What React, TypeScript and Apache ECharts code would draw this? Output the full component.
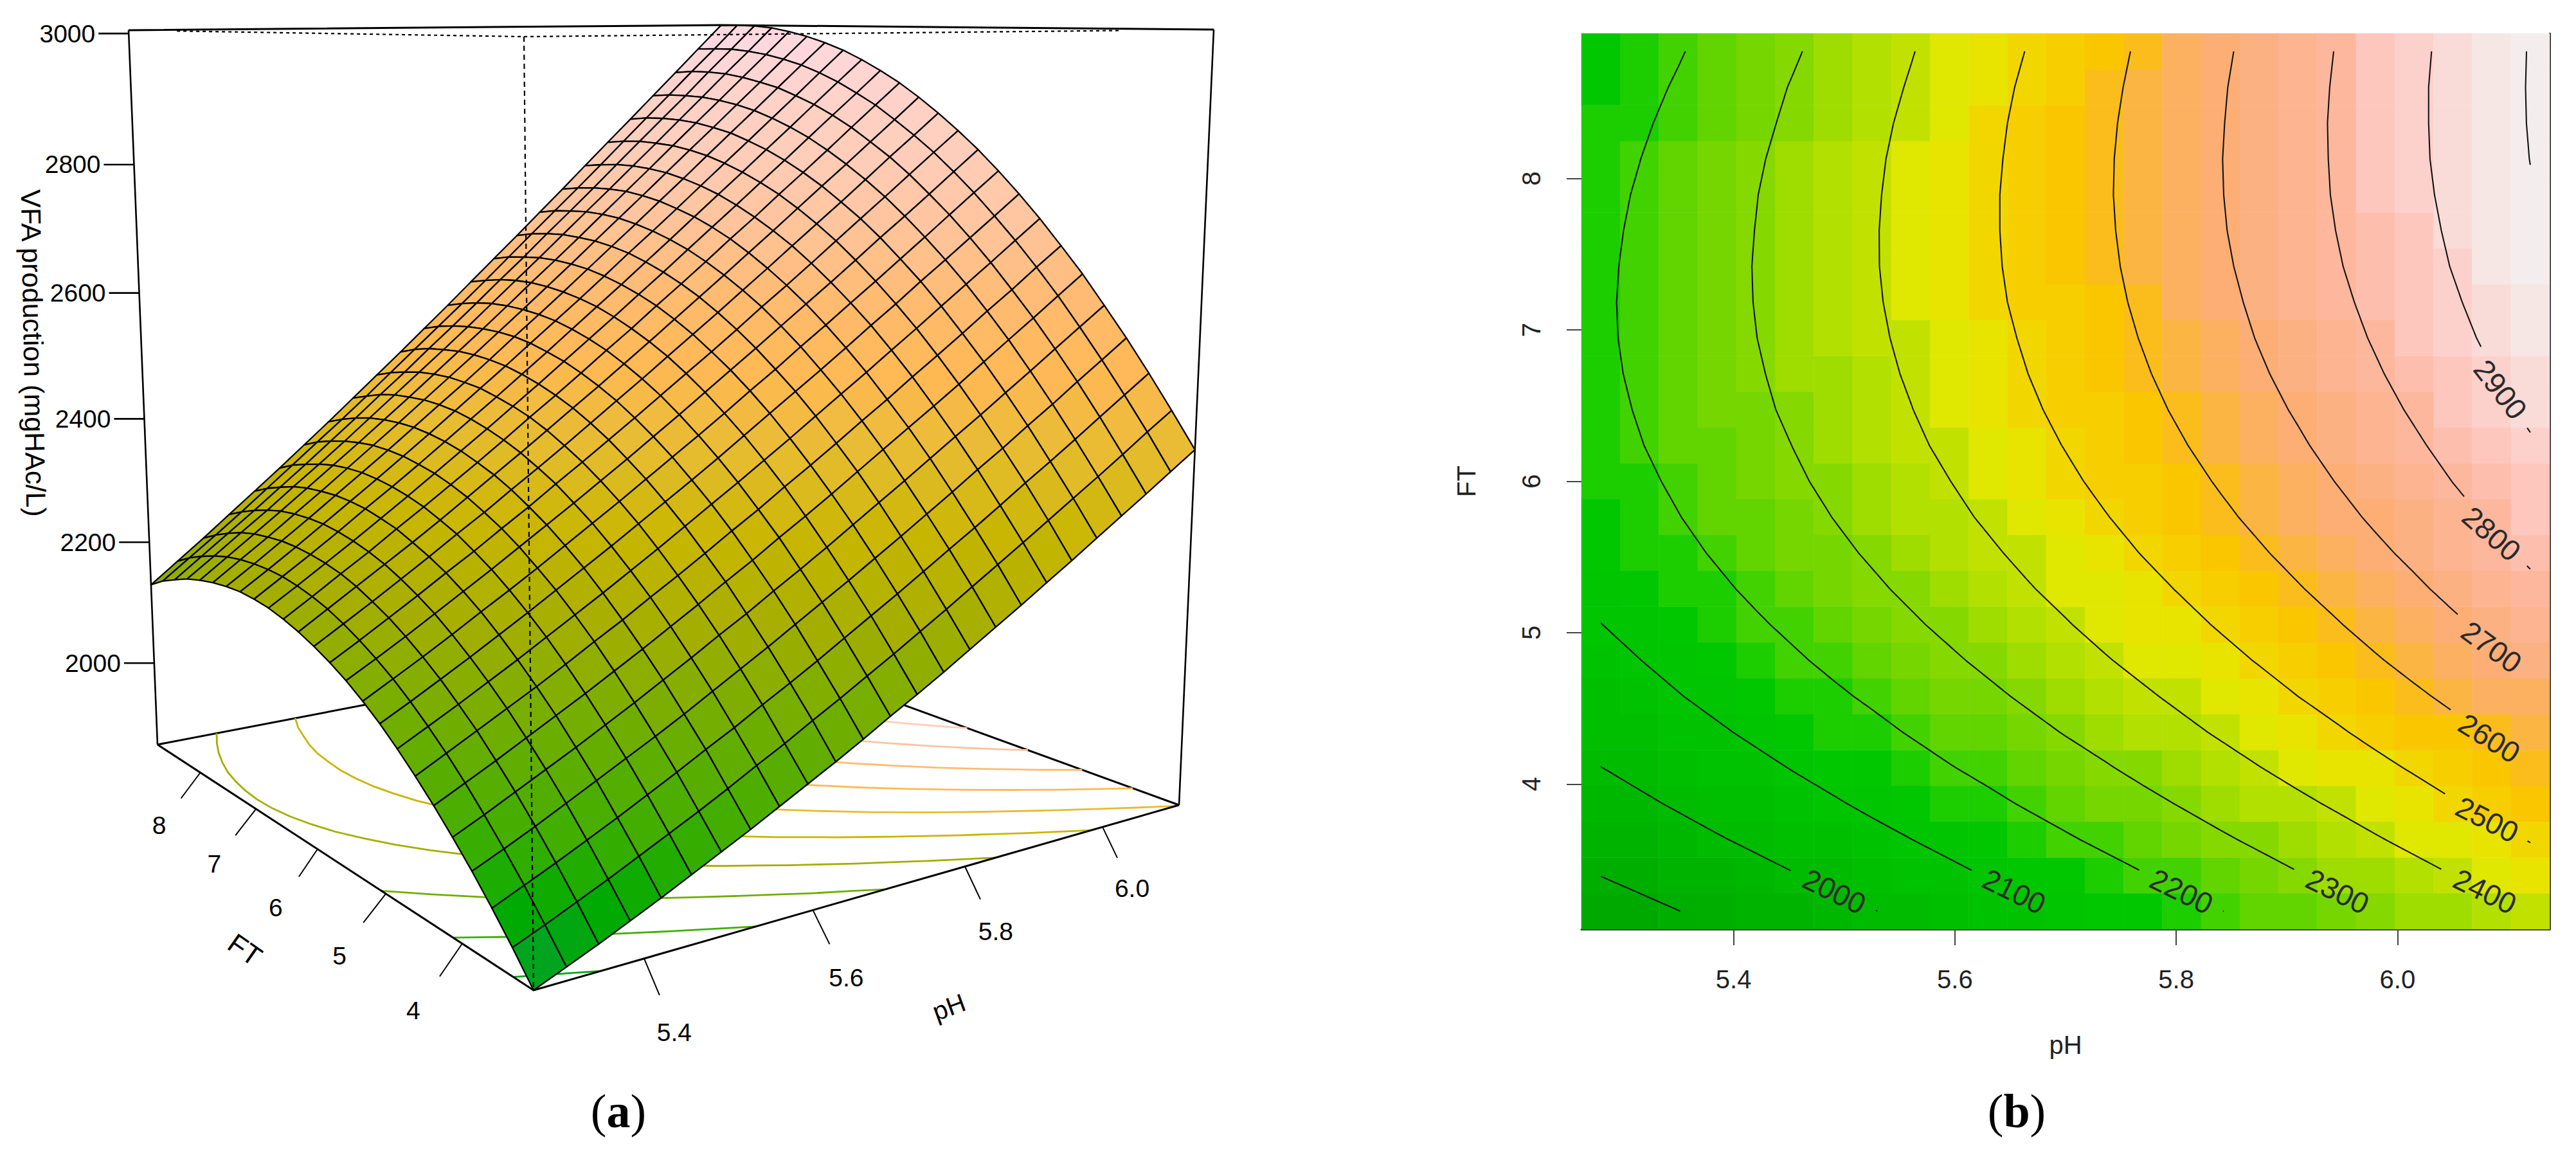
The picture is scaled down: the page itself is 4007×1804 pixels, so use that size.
import React, { useEffect, useRef } from "react";
import * as echarts from "echarts";

// ---------- values ----------
const phGrid = [5.28, 5.315, 5.35, 5.385, 5.42, 5.455, 5.49, 5.525, 5.56, 5.595, 5.63, 5.665, 5.7, 5.735, 5.77, 5.805, 5.84, 5.875, 5.91, 5.945, 5.98, 6.015, 6.05, 6.085, 6.12];
const ftGrid = [3.16, 3.397, 3.633, 3.87, 4.107, 4.343, 4.58, 4.817, 5.053, 5.29, 5.527, 5.763, 6.0, 6.237, 6.473, 6.71, 6.947, 7.183, 7.42, 7.657, 7.893, 8.13, 8.367, 8.603, 8.84];
// rows follow ftGrid, columns follow phGrid: VFA production (mgHAc/L)
const vfaGrid = [
  [1863, 1881, 1899, 1918, 1937, 1957, 1977, 1997, 2018, 2039, 2060, 2082, 2105, 2127, 2150, 2174, 2198, 2222, 2247, 2272, 2298, 2324, 2350, 2377, 2404],
  [1901, 1919, 1938, 1957, 1977, 1997, 2017, 2038, 2060, 2081, 2104, 2126, 2149, 2172, 2196, 2220, 2245, 2270, 2295, 2321, 2347, 2373, 2400, 2428, 2455],
  [1936, 1955, 1974, 1994, 2014, 2035, 2056, 2078, 2099, 2122, 2144, 2167, 2191, 2215, 2239, 2264, 2289, 2314, 2340, 2367, 2393, 2420, 2448, 2476, 2504],
  [1969, 1988, 2008, 2029, 2050, 2071, 2092, 2114, 2137, 2160, 2183, 2207, 2231, 2255, 2280, 2305, 2331, 2357, 2384, 2410, 2438, 2465, 2494, 2522, 2551],
  [1999, 2019, 2040, 2061, 2082, 2104, 2126, 2149, 2172, 2196, 2219, 2244, 2268, 2293, 2319, 2345, 2371, 2398, 2425, 2452, 2480, 2508, 2537, 2566, 2595],
  [2027, 2048, 2069, 2091, 2113, 2135, 2158, 2181, 2205, 2229, 2254, 2278, 2304, 2329, 2355, 2382, 2409, 2436, 2463, 2491, 2520, 2549, 2578, 2608, 2638],
  [2053, 2075, 2097, 2119, 2141, 2164, 2188, 2211, 2236, 2260, 2285, 2311, 2336, 2363, 2389, 2416, 2444, 2471, 2500, 2528, 2557, 2587, 2616, 2647, 2677],
  [2077, 2099, 2121, 2144, 2167, 2191, 2215, 2239, 2264, 2289, 2315, 2341, 2367, 2394, 2421, 2449, 2477, 2505, 2534, 2563, 2593, 2623, 2653, 2684, 2715],
  [2099, 2121, 2144, 2167, 2191, 2215, 2240, 2265, 2290, 2316, 2342, 2368, 2395, 2423, 2451, 2479, 2507, 2536, 2566, 2595, 2626, 2656, 2687, 2718, 2750],
  [2118, 2141, 2164, 2188, 2213, 2237, 2262, 2288, 2314, 2340, 2367, 2394, 2421, 2449, 2478, 2506, 2536, 2565, 2595, 2625, 2656, 2687, 2719, 2751, 2783],
  [2135, 2158, 2182, 2207, 2232, 2257, 2283, 2309, 2335, 2362, 2389, 2417, 2445, 2474, 2503, 2532, 2562, 2592, 2622, 2653, 2685, 2716, 2748, 2781, 2814],
  [2149, 2173, 2198, 2223, 2249, 2274, 2301, 2327, 2355, 2382, 2410, 2438, 2467, 2496, 2525, 2555, 2586, 2616, 2647, 2679, 2711, 2743, 2776, 2809, 2842],
  [2161, 2186, 2211, 2237, 2263, 2290, 2316, 2344, 2371, 2399, 2428, 2457, 2486, 2516, 2546, 2576, 2607, 2638, 2670, 2702, 2734, 2767, 2801, 2834, 2868],
  [2171, 2197, 2223, 2249, 2275, 2302, 2330, 2358, 2386, 2415, 2444, 2473, 2503, 2533, 2564, 2595, 2626, 2658, 2690, 2723, 2756, 2789, 2823, 2857, 2892],
  [2179, 2205, 2232, 2258, 2286, 2313, 2341, 2369, 2398, 2428, 2457, 2487, 2518, 2548, 2580, 2611, 2643, 2676, 2708, 2742, 2775, 2809, 2844, 2879, 2914],
  [2185, 2211, 2238, 2265, 2293, 2321, 2350, 2379, 2408, 2438, 2468, 2499, 2530, 2561, 2593, 2625, 2658, 2691, 2724, 2758, 2792, 2827, 2862, 2897, 2933],
  [2188, 2215, 2242, 2270, 2299, 2327, 2356, 2386, 2416, 2446, 2477, 2508, 2540, 2572, 2604, 2637, 2670, 2704, 2738, 2772, 2807, 2842, 2878, 2914, 2950],
  [2189, 2216, 2244, 2273, 2302, 2331, 2361, 2391, 2422, 2453, 2484, 2516, 2548, 2580, 2613, 2647, 2680, 2714, 2749, 2784, 2819, 2855, 2891, 2928, 2965],
  [2187, 2215, 2244, 2273, 2303, 2333, 2363, 2394, 2425, 2456, 2488, 2521, 2553, 2586, 2620, 2654, 2688, 2723, 2758, 2794, 2830, 2866, 2903, 2940, 2977],
  [2183, 2212, 2241, 2271, 2301, 2332, 2363, 2394, 2426, 2458, 2490, 2523, 2556, 2590, 2624, 2659, 2694, 2729, 2765, 2801, 2837, 2874, 2911, 2949, 2987],
  [2177, 2207, 2237, 2267, 2298, 2329, 2360, 2392, 2424, 2457, 2490, 2523, 2557, 2592, 2626, 2661, 2697, 2733, 2769, 2806, 2843, 2880, 2918, 2956, 2995],
  [2169, 2199, 2230, 2260, 2292, 2323, 2355, 2388, 2421, 2454, 2487, 2521, 2556, 2591, 2626, 2662, 2698, 2734, 2771, 2808, 2846, 2884, 2923, 2961, 3001],
  [2158, 2189, 2220, 2251, 2283, 2315, 2348, 2381, 2415, 2448, 2483, 2517, 2552, 2588, 2623, 2660, 2696, 2733, 2771, 2809, 2847, 2885, 2925, 2964, 3004],
  [2146, 2177, 2208, 2240, 2273, 2306, 2339, 2372, 2406, 2441, 2476, 2511, 2546, 2582, 2619, 2656, 2693, 2730, 2768, 2807, 2846, 2885, 2925, 2964, 3005],
  [2130, 2162, 2194, 2227, 2260, 2293, 2327, 2361, 2396, 2431, 2466, 2502, 2538, 2575, 2612, 2649, 2687, 2725, 2764, 2803, 2842, 2882, 2922, 2963, 3004],
];
const contourLevels = [1900, 2000, 2100, 2200, 2300, 2400, 2500, 2600, 2700, 2800, 2900, 3000];
const zTicks = [2000, 2200, 2400, 2600, 2800, 3000];
const phTicks = [5.4, 5.6, 5.8, 6.0];
const ftTicks = [4, 5, 6, 7, 8];
const contourLabelLevels = [2000, 2100, 2200, 2300, 2400, 2500, 2600, 2700, 2800, 2900];
const contourLabelPh = [5.491, 5.6535, 5.8047, 5.9458, 6.079, 6.081, 6.083, 6.085, 6.085, 6.093];
const contourLabelFt = [3.291, 3.291, 3.291, 3.291, 3.291, 3.765, 4.303, 4.905, 5.653, 6.606];
const contourLabelTilt = [26, 26, 26, 26, 26, 27, 32, 36, 41, 52];

// ---------- colour ramps (level, colour) ----------
const surfaceLevels = [1863, 1930, 2000, 2100, 2200, 2300, 2400, 2500, 2600, 2700, 2800, 2900, 3005];
const surfaceColours = ["#00A035", "#00AA00", "#40AE00", "#70AE00", "#A4AE00", "#C8B600", "#E6BC30", "#FFB954", "#FFBB72", "#FFC49C", "#FFCDB8", "#FFD3CC", "#FFDAE6"];
const heatLevels = [1863, 1950, 2050, 2150, 2200, 2250, 2300, 2350, 2400, 2440, 2470, 2500, 2540, 2575, 2612, 2650, 2700, 2800, 2850, 2900, 2950, 3005];
const heatColours = ["#00A600", "#00B400", "#00C000", "#00C800", "#3CD200", "#6ED400", "#82D800", "#AADE00", "#C0E200", "#E6E800", "#E8E400", "#F2D600", "#F8CC00", "#FAC400", "#FBB82E", "#FCB25A", "#FCAE78", "#FDB8A0", "#FEC4BA", "#FCD4D0", "#F6E4E2", "#F2F2F2"];

// ---------- layout of the perspective box on the page ----------
const W = 4007;
const H = 1804;
const SERIF = "'Liberation Serif', serif";
const SANS = "'Liberation Sans', Arial, sans-serif";
type Pt = [number, number];
const floorQuad: Pt[] = [[830, 1540], [1834, 1252], [1116, 991], [245, 1158]];
const roofQuad: Pt[] = [[815, 57], [1888, 46], [1121, 39], [200, 47]];
const viewPull = -0.075;
const phTickVec: Pt[] = [[24, 57], [26, 53], [24, 51], [23, 48]];
const phLabelVec: Pt[] = [[47, 115], [52, 105], [48, 101], [46, 95]];
const ftTickVec: Pt[] = [[-35, 51], [-35, 45], [-29, 43], [-32, 41], [-30, 40]];
const ftLabelVec: Pt[] = [[-76, 104], [-72, 97], [-65, 91], [-65, 85], [-64, 82]];
const heatRect = { left: 2460, top: 52, width: 1506, height: 1393 };

function quadMap(q: Pt[]) {
  const [[x0, y0], [x1, y1], [x2, y2], [x3, y3]] = q;
  const dx1 = x1 - x2, dx2 = x3 - x2, sx = x0 - x1 + x2 - x3;
  const dy1 = y1 - y2, dy2 = y3 - y2, sy = y0 - y1 + y2 - y3;
  const det = dx1 * dy2 - dx2 * dy1;
  const g = (sx * dy2 - dx2 * sy) / det;
  const h = (dx1 * sy - sx * dy1) / det;
  const A = x1 - x0 + g * x1, B = x3 - x0 + h * x3;
  const D = y1 - y0 + g * y1, E = y3 - y0 + h * y3;
  return {
    g, h,
    at: (a: number, b: number): Pt => {
      const w = g * a + h * b + 1;
      return [(A * a + B * b + x0) / w, (D * a + E * b + y0) / w];
    },
  };
}
const floorMap = quadMap(floorQuad);
const roofMap = quadMap(roofQuad);
const phMin = phGrid[0], phMax = phGrid[24], ftMin = ftGrid[0], ftMax = ftGrid[24];
const zMin = 1863, zMax = 3005;

function projectUnit(a: number, b: number, c: number): Pt {
  const B = floorMap.at(a, b);
  const T = roofMap.at(a, b);
  const w = 1 + floorMap.g * a + floorMap.h * b;
  const t = (c * (w + viewPull)) / (w + viewPull * c);
  return [B[0] + (T[0] - B[0]) * t, B[1] + (T[1] - B[1]) * t];
}
function project(ph: number, ft: number, z: number): Pt {
  return projectUnit((ph - phMin) / (phMax - phMin), (ft - ftMin) / (ftMax - ftMin), (z - zMin) / (zMax - zMin));
}

function hex(c: string) {
  return [1, 3, 5].map((k) => parseInt(c.slice(k, k + 2), 16));
}
function ramp(levels: number[], colours: string[], z: number) {
  let k = 0;
  while (k < levels.length - 2 && z > levels[k + 1]) k++;
  const t = Math.max(0, Math.min(1, (z - levels[k]) / (levels[k + 1] - levels[k])));
  const a = hex(colours[k]), b = hex(colours[k + 1]);
  return `rgb(${a.map((v, n) => Math.round(v + (b[n] - v) * t)).join(",")})`;
}

// contour lines are traced through the table, cell by cell, as a contour plot does
function traceContour(level: number): Pt[][] {
  const points = new Map<string, Pt>();
  const links = new Map<string, string[]>();
  const edge = (i1: number, j1: number, i2: number, j2: number) => {
    const z1 = vfaGrid[i1][j1], z2 = vfaGrid[i2][j2];
    if (z1 >= level === z2 >= level) return null;
    const key = `${i1},${j1},${i2},${j2}`;
    const t = (level - z1) / (z2 - z1);
    points.set(key, [phGrid[j1] + (phGrid[j2] - phGrid[j1]) * t, ftGrid[i1] + (ftGrid[i2] - ftGrid[i1]) * t]);
    return key;
  };
  const link = (a: string, b: string) => {
    links.set(a, [...(links.get(a) || []), b]);
    links.set(b, [...(links.get(b) || []), a]);
  };
  for (let i = 0; i < 24; i++) {
    for (let j = 0; j < 24; j++) {
      const hits = [edge(i, j, i, j + 1), edge(i, j + 1, i + 1, j + 1), edge(i + 1, j, i + 1, j + 1), edge(i, j, i + 1, j)].filter(Boolean) as string[];
      if (hits.length === 2) link(hits[0], hits[1]);
      if (hits.length === 4) {
        link(hits[0], hits[1]);
        link(hits[2], hits[3]);
      }
    }
  }
  const seen = new Set<string>();
  const out: Pt[][] = [];
  const starts = [...links.keys()].sort((a, b) => links.get(a)!.length - links.get(b)!.length);
  for (const s of starts) {
    if (seen.has(s)) continue;
    const line: Pt[] = [];
    let cur: string | undefined = s;
    while (cur && !seen.has(cur)) {
      seen.add(cur);
      line.push(points.get(cur)!);
      cur = links.get(cur)!.find((n) => !seen.has(n));
    }
    if (line.length > 1) out.push(line);
  }
  return out;
}

const contourLines = contourLevels.map((level) => ({ level, lines: traceContour(level) }));
const floorLines = contourLines.flatMap((c) => c.lines.map((line) => ({ level: c.level, line })));

// the plot leaves a gap in each contour line round its label
const phScale = heatRect.width / (phMax - phMin + 0.035);
const ftScale = heatRect.height / (ftMax - ftMin + 0.2367);
const LABEL_GAP = 71;
function contourSeriesData(level: number, lines: Pt[][]) {
  const k = contourLabelLevels.indexOf(level);
  const data: any[] = [];
  for (const line of lines) {
    for (let n = 0; n < line.length - 1; n++) {
      for (let s = 0; s < 10; s++) {
        const ph = line[n][0] + ((line[n + 1][0] - line[n][0]) * s) / 10;
        const ft = line[n][1] + ((line[n + 1][1] - line[n][1]) * s) / 10;
        const inGap = k >= 0 && Math.hypot((ph - contourLabelPh[k]) * phScale, (ft - contourLabelFt[k]) * ftScale) < LABEL_GAP;
        data.push(inGap ? ["-", "-"] : [ph, ft]);
      }
    }
    data.push(line[line.length - 1]);
    data.push(["-", "-"]);
  }
  return data;
}

const surfaceCells: number[][] = [];
for (let i = 23; i >= 0; i--) for (let j = 23; j >= 0; j--) surfaceCells.push([i, j]);

const heatBandSize = 32.63;
const heatPieces = Array.from({ length: 35 }, (_, n) => {
  const lo = zMin + n * heatBandSize;
  return { min: lo, max: lo + heatBandSize, color: ramp(heatLevels, heatColours, lo + heatBandSize / 2) };
});
const heatData = vfaGrid.flatMap((row, i) => row.map((z, j) => [j, i, z]));

type Seg = { pts: Pt[]; width: number; dash?: number[]; color?: string };

function pageSeries(name: string, count: number, render: (k: number, api: any) => any): any {
  return {
    type: "custom",
    name,
    xAxisIndex: 0,
    yAxisIndex: 0,
    silent: true,
    clip: false,
    progressive: 0,
    animation: false,
    data: Array.from({ length: count }, (_, k) => [k, k]),
    renderItem: (params: any, api: any) => render(params.dataIndex, api),
  };
}
function segSeries(name: string, segs: Seg[]) {
  return pageSeries(name, segs.length, (k, api) => ({
    type: "polyline",
    shape: { points: segs[k].pts.map((p) => api.coord(p)) },
    style: { fill: "none", stroke: segs[k].color || "#000", lineWidth: segs[k].width, lineDash: segs[k].dash, lineCap: "butt", lineJoin: "round" },
  }));
}

const boxBack: Seg[] = [
  { pts: [projectUnit(0, 1, 0), projectUnit(1, 1, 0), projectUnit(1, 0, 0)], width: 3 },
  { pts: [projectUnit(0, 1, 0), projectUnit(0, 1, 1)], width: 2.6 },
  { pts: [projectUnit(1, 0, 0), projectUnit(1, 0, 1)], width: 2.6 },
  { pts: [projectUnit(0, 1, 1), projectUnit(1, 1, 1), projectUnit(1, 0, 1)], width: 3 },
];
const boxFront: Seg[] = [
  { pts: [projectUnit(0, 1, 0), projectUnit(0, 0, 0), projectUnit(1, 0, 0)], width: 3 },
  { pts: [projectUnit(0, 0, 1), projectUnit(0, 0, 0)], width: 2.2, dash: [8, 6] },
  { pts: [projectUnit(0, 0.85, 1), projectUnit(0, 0, 1), projectUnit(0.85, 0, 1)], width: 2.2, dash: [5, 5] },
  ...zTicks.map((z): Seg => {
    const p = project(phMin, ftMax, z);
    return { pts: [p, [p[0] - 47, p[1]]], width: 2.6 };
  }),
  ...phTicks.map((v, n): Seg => {
    const p = project(v, ftMin, zMin);
    return { pts: [p, [p[0] + phTickVec[n][0], p[1] + phTickVec[n][1]]], width: 2 };
  }),
  ...ftTicks.map((v, n): Seg => {
    const p = project(phMin, v, zMin);
    return { pts: [p, [p[0] + ftTickVec[n][0], p[1] + ftTickVec[n][1]]], width: 2 };
  }),
];

type Tx = { text: string; at: Pt; size: number; rot?: number; align?: string; font?: string; fill?: string; rich?: any };
const boxTexts: Tx[] = [
  ...zTicks.map((z): Tx => {
    const p = project(phMin, ftMax, z);
    return { text: String(z), at: [p[0] - 52, p[1]], size: 39, align: "right" };
  }),
  ...phTicks.map((v, n): Tx => {
    const p = project(v, ftMin, zMin);
    return { text: v.toFixed(1), at: [p[0] + phLabelVec[n][0], p[1] + phLabelVec[n][1]], size: 39 };
  }),
  ...ftTicks.map((v, n): Tx => {
    const p = project(phMin, v, zMin);
    return { text: String(v), at: [p[0] + ftLabelVec[n][0], p[1] + ftLabelVec[n][1]], size: 39 };
  }),
  { text: "VFA production (mgHAc/L)", at: [52, 549], size: 43, rot: -89 },
  { text: "FT", at: [381, 1477], size: 43, rot: -35 },
  { text: "pH", at: [1476, 1566], size: 40, rot: 20 },
];
const captionRich = (fs: number) => ({
  p: { fontFamily: SERIF, fontSize: fs, fill: "#000", fontWeight: "normal" },
  b: { fontFamily: SERIF, fontSize: fs, fill: "#000", fontWeight: "bold" },
});
const captions: Tx[] = [
  { text: "{p|(}{b|a}{p|)}", at: [962, 1728], size: 74, rich: captionRich(74) },
  { text: "{p|(}{b|b}{p|)}", at: [3137, 1728], size: 74, rich: captionRich(74) },
];
function textEl(t: Tx, api: any) {
  const [x, y] = api.coord(t.at);
  return {
    type: "text",
    x,
    y,
    rotation: ((t.rot || 0) * Math.PI) / 180,
    style: {
      text: t.text,
      fontFamily: t.font || SANS,
      fontSize: t.size,
      fill: t.fill || "#000",
      align: t.align || "center",
      verticalAlign: "middle",
      rich: t.rich,
    },
  };
}

function buildOption(): any {
  const heatX = { min: phMin - 0.0175, max: phMax + 0.0175 };
  const heatY = { min: ftMin - 0.11835, max: ftMax + 0.11835 };
  const axisGrey = "#333";
  const axisFont = { fontFamily: SANS, fontSize: 40, color: "#222" };
  return {
    animation: false,
    backgroundColor: "#fff",
    grid: [
      { left: 0, top: 0, width: W, height: H, show: false },
      { ...heatRect, show: false },
    ],
    xAxis: [
      { type: "value", gridIndex: 0, min: 0, max: W, show: false },
      { type: "category", gridIndex: 1, data: phGrid.map(String), show: false, boundaryGap: true },
      {
        type: "value",
        gridIndex: 1,
        position: "bottom",
        ...heatX,
        splitLine: { show: false },
        axisLine: { show: true, onZero: false, lineStyle: { color: axisGrey, width: 3 } },
        axisTick: { show: true, customValues: phTicks, length: 25, lineStyle: { color: "#444", width: 2 } },
        axisLabel: { ...axisFont, customValues: phTicks, margin: 58, formatter: (v: number) => v.toFixed(1) },
        name: "pH",
        nameLocation: "middle",
        nameGap: 160,
        nameTextStyle: axisFont,
      },
    ],
    yAxis: [
      { type: "value", gridIndex: 0, min: 0, max: H, inverse: true, show: false },
      { type: "category", gridIndex: 1, data: ftGrid.map(String), show: false, boundaryGap: true },
      {
        type: "value",
        gridIndex: 1,
        position: "left",
        ...heatY,
        splitLine: { show: false },
        axisLine: { show: false, onZero: false },
        axisTick: { show: true, customValues: ftTicks, length: 23, lineStyle: { color: "#444", width: 2 } },
        axisLabel: { ...axisFont, customValues: ftTicks, margin: 58, rotate: 90, formatter: (v: number) => String(v) },
        name: "FT",
        nameLocation: "middle",
        nameGap: 159,
        nameTextStyle: axisFont,
      },
      {
        type: "value",
        gridIndex: 1,
        position: "right",
        ...heatY,
        splitLine: { show: false },
        axisTick: { show: false },
        axisLabel: { show: false },
        axisLine: { show: true, onZero: false, lineStyle: { color: axisGrey, width: 3 } },
      },
    ],
    visualMap: {
      type: "piecewise",
      show: false,
      seriesIndex: 0,
      dimension: 2,
      pieces: heatPieces,
    },
    series: [
      {
        type: "heatmap",
        name: "VFA map",
        xAxisIndex: 1,
        yAxisIndex: 1,
        silent: true,
        progressive: 0,
        data: heatData,
      },
      ...contourLines.map((c) => ({
        type: "line",
        name: `contour ${c.level}`,
        xAxisIndex: 2,
        yAxisIndex: 2,
        silent: true,
        showSymbol: false,
        symbol: "none",
        connectNulls: false,
        lineStyle: { color: "#141414", width: 2.1 },
        data: contourSeriesData(c.level, c.lines),
      })),
      {
        type: "custom",
        name: "contour labels",
        xAxisIndex: 2,
        yAxisIndex: 2,
        silent: true,
        progressive: 0,
        data: contourLabelLevels.map((_, k) => [contourLabelPh[k], contourLabelFt[k]]),
        renderItem: (params: any, api: any) => {
          const k = params.dataIndex;
          const [x, y] = api.coord([contourLabelPh[k], contourLabelFt[k]]);
          return {
            type: "text",
            x,
            y,
            rotation: (-contourLabelTilt[k] * Math.PI) / 180,
            style: { text: String(contourLabelLevels[k]), fontFamily: SANS, fontSize: 46, fill: "#2a2a2a", align: "center", verticalAlign: "middle" },
          };
        },
      },
      segSeries("box behind", boxBack),
      pageSeries("floor contours", floorLines.length, (k, api) => ({
        type: "polyline",
        shape: { points: floorLines[k].line.map((p) => api.coord(project(p[0], p[1], zMin))) },
        style: { fill: "none", stroke: ramp(surfaceLevels, surfaceColours, floorLines[k].level), lineWidth: 2.8 },
      })),
      pageSeries("surface", surfaceCells.length, (k, api) => {
        const [i, j] = surfaceCells[k];
        const corners: [number, number][] = [[i, j], [i, j + 1], [i + 1, j + 1], [i + 1, j]];
        const mean = corners.reduce((s, [r, c]) => s + vfaGrid[r][c], 0) / 4;
        return {
          type: "polygon",
          shape: { points: corners.map(([r, c]) => api.coord(project(phGrid[c], ftGrid[r], vfaGrid[r][c]))) },
          style: { fill: ramp(surfaceLevels, surfaceColours, mean), stroke: "#000", lineWidth: 2.3, lineJoin: "round" },
        };
      }),
      segSeries("box in front", boxFront),
      pageSeries("box texts", boxTexts.length, (k, api) => textEl(boxTexts[k], api)),
      pageSeries("captions", captions.length, (k, api) => textEl(captions[k], api)),
    ],
  };
}

export default function App() {
  const ref = useRef<HTMLDivElement>(null);
  useEffect(() => {
    if (!ref.current) return;
    const chart = echarts.init(ref.current, undefined, { renderer: "svg" });
    chart.setOption(buildOption());
    return () => chart.dispose();
  }, []);
  return <div ref={ref} style={{ position: "fixed", left: 0, top: 0, width: W, height: H }} />;
}
